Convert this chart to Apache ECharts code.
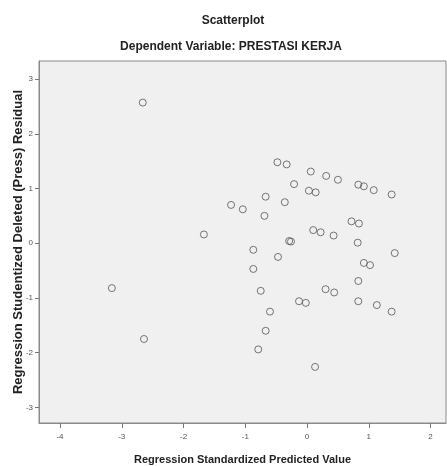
<!DOCTYPE html>
<html>
<head>
<meta charset="utf-8">
<script src="https://cdn.jsdelivr.net/npm/echarts@6/dist/echarts.min.js"></script>
<style>html,body{margin:0;padding:0;background:#fff;}#c{width:447px;height:466px;}</style>
</head>
<body>
<div id="c"></div>
<script>
const xTicks = [-4, -3, -2, -1, 0, 1, 2];
const yTicks = [-3, -2, -1, 0, 1, 2, 3];
const predicted = [-2.66,-0.48,-0.33,0.06,0.31,0.50,-0.21,0.03,0.14,0.83,0.92,1.08,1.37,-0.67,-0.36,-1.23,-1.04,-0.69,0.72,0.84,-1.67,0.10,0.22,0.43,-0.29,-0.26,0.82,1.42,-0.87,-0.47,0.92,1.02,-0.87,0.83,-3.16,-0.75,0.30,0.44,-0.13,-0.02,0.83,1.13,1.37,-0.60,-2.64,-0.67,-0.79,0.13];
const residual = [2.57,1.48,1.44,1.31,1.23,1.16,1.08,0.96,0.93,1.07,1.04,0.97,0.89,0.85,0.75,0.70,0.62,0.50,0.40,0.36,0.16,0.24,0.20,0.14,0.04,0.03,0.01,-0.18,-0.12,-0.25,-0.36,-0.40,-0.47,-0.69,-0.82,-0.87,-0.84,-0.90,-1.06,-1.09,-1.06,-1.13,-1.25,-1.25,-1.75,-1.60,-1.94,-2.26];
const points = predicted.map((v, i) => [v, residual[i]]);
const narrow = '"Liberation Sans Narrow","Arial Narrow","Liberation Sans",Arial,sans-serif';
const chart = echarts.init(document.getElementById('c'));
chart.setOption({
  animation: false,
  backgroundColor: '#ffffff',
  title: [
    {text: 'Scatterplot', left: 228, top: 10, textAlign: 'center',
     textStyle: {fontFamily: narrow, fontSize: 12, fontWeight: 'bold', color: '#222'}},
    {text: 'Dependent Variable: PRESTASI KERJA', left: 226, top: 36, textAlign: 'center',
     textStyle: {fontFamily: narrow, fontSize: 12, fontWeight: 'bold', color: '#222'}}
  ],
  grid: {left: 39, top: 61, right: 1, bottom: 43, containLabel: false, outerBoundsMode: 'none',
         show: true, backgroundColor: '#f0f0f0', borderColor: '#8a8a8a', borderWidth: 1},
  xAxis: {
    type: 'value', min: -4.34, max: 2.25,
    name: 'Regression Standardized Predicted Value', nameLocation: 'middle', nameGap: 31,
    nameTextStyle: {fontFamily: narrow, fontSize: 11, fontWeight: 'bold', color: '#222'},
    axisLine: {show: true, onZero: false, lineStyle: {color: '#8a8a8a'}},
    axisTick: {show: true, length: 5, customValues: xTicks, lineStyle: {color: '#777'}},
    axisLabel: {customValues: xTicks, fontSize: 8, color: '#555', margin: 10},
    splitLine: {show: false}
  },
  yAxis: {
    type: 'value', min: -3.285, max: 3.33,
    name: 'Regression Studentized Deleted (Press) Residual', nameLocation: 'middle', nameGap: 14, nameRotate: 90,
    nameMoveOverlap: false,
    nameTextStyle: {fontFamily: narrow, fontSize: 13, fontWeight: 'bold', color: '#222'},
    axisLine: {show: true, onZero: false, lineStyle: {color: '#8a8a8a'}},
    axisTick: {show: true, length: 4, customValues: yTicks, lineStyle: {color: '#777'}},
    axisLabel: {customValues: yTicks, fontSize: 8, color: '#555', margin: 6},
    splitLine: {show: false}
  },
  series: [{
    type: 'scatter', data: points, symbol: 'circle', symbolSize: 7,
    itemStyle: {color: 'rgba(0,0,0,0)', borderColor: '#555', borderWidth: 1}
  }]
});
</script>
</body>
</html>
